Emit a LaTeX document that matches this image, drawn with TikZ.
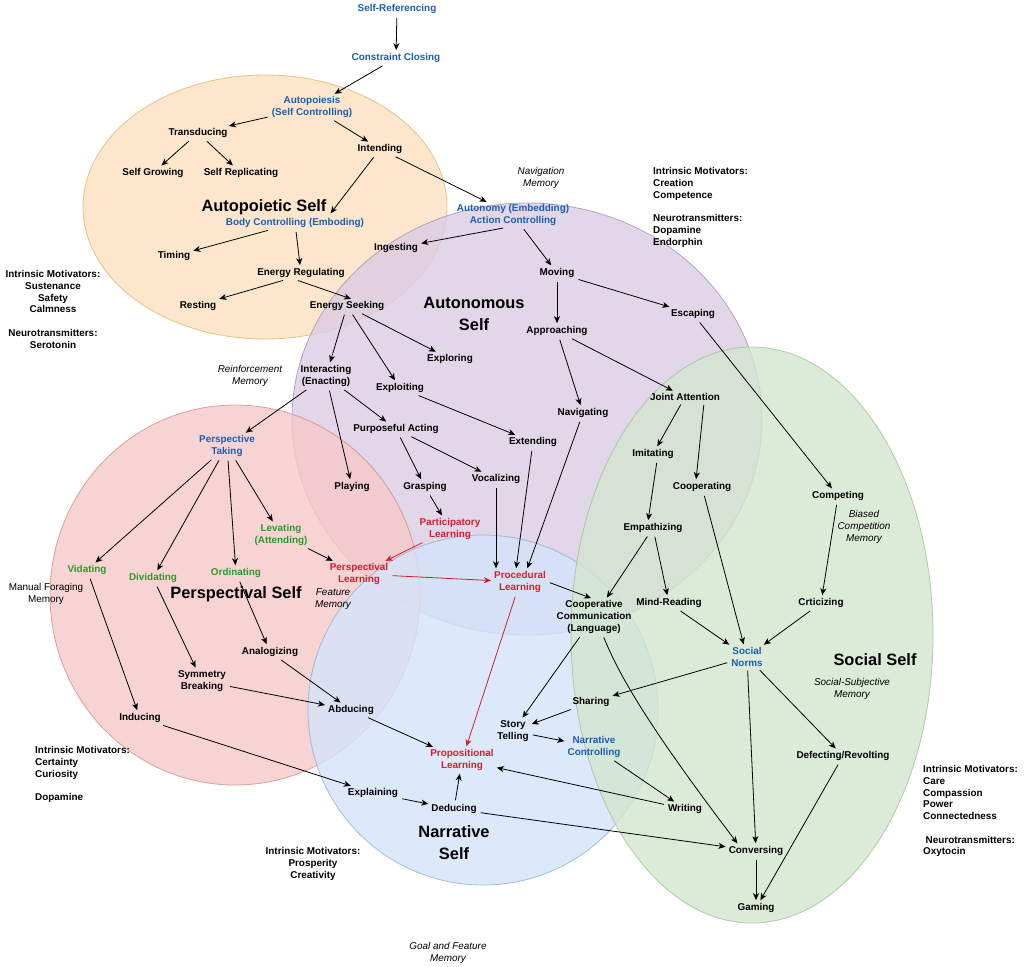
\documentclass[tikz,border=0pt]{standalone}
\usepackage{fontspec}
\setmainfont{Liberation Sans}
\usetikzlibrary{arrows.meta,calc}
\definecolor{tblue}{HTML}{1A5FB4}
\definecolor{tred}{HTML}{D2202A}
\definecolor{tgreen}{HTML}{2A9A2A}
\definecolor{oF}{HTML}{FDE0C0}\definecolor{oB}{HTML}{D8B46A}
\definecolor{pF}{HTML}{DBCCE4}\definecolor{pB}{HTML}{A58BB5}
\definecolor{rF}{HTML}{F7C9C8}\definecolor{rB}{HTML}{C98A88}
\definecolor{bF}{HTML}{D4E4FB}\definecolor{bB}{HTML}{8EA9D0}
\definecolor{gF}{HTML}{D2E6CF}\definecolor{gB}{HTML}{9DBF8F}
\begin{document}
\begin{tikzpicture}[x=1pt,y=-1pt,
 lbl/.style={font=\fontsize{9.9}{11.7}\selectfont\bfseries, align=center, inner sep=2pt},
 bl/.style={lbl, text=tblue},
 rd/.style={lbl, text=tred},
 gn/.style={lbl, text=tgreen},
 big/.style={font=\fontsize{16.4}{22}\selectfont\bfseries, align=center, inner sep=0pt},
 mem/.style={font=\fontsize{9.9}{11.7}\selectfont\itshape, align=center, inner sep=0pt},
 plain/.style={font=\fontsize{9.9}{11.7}\selectfont, align=center, inner sep=0pt},
 info/.style={font=\fontsize{9.9}{11.7}\selectfont\bfseries, align=left, inner sep=0pt, anchor=north west},
 infoc/.style={font=\fontsize{9.9}{11.7}\selectfont\bfseries, align=center, inner sep=0pt, anchor=north},
 arr/.style={-{Stealth[length=7pt,width=6pt,inset=2pt]}, line width=0.8pt, shorten <=2pt, shorten >=1pt},
 rarr/.style={arr, draw=tred, color=tred},
 blob/.style={line width=0.8pt, fill opacity=0.8, draw opacity=0.75}
]
\useasboundingbox (0,0) rectangle (1024,966);
\fill[white] (0,0) rectangle (1024,966);

% ellipses
\draw[blob, draw=oB, fill=oF] (265,207) ellipse [x radius=182pt, y radius=132pt];
\draw[blob, draw=pB, fill=pF] (527,419) ellipse [x radius=235pt, y radius=216pt];
\draw[blob, draw=rB, fill=rF] (235,595) ellipse [x radius=185pt, y radius=190pt];
\draw[blob, draw=bB, fill=bF] (483,710) ellipse [x radius=175pt, y radius=175pt];
\draw[blob, draw=gB, fill=gF] (752,635) ellipse [x radius=181pt, y radius=288pt];

% titles
\node[big] (tAuto) at (264,207) {Autopoietic Self};
\node[big] (tAutonomous) at (474,314) {Autonomous\\Self};
\node[big] (tPersp) at (236,594) {Perspectival Self};
\node[big] (tSocial) at (875,660) {Social Self};
\node[big] (tNarr) at (454,843) {Narrative\\Self};

% memory labels
\node[mem] (mNav) at (541,178) {Navigation\\Memory};
\node[mem] (mReinf) at (250,376) {Reinforcement\\Memory};
\node[mem] (mBiased) at (864,527) {Biased\\Competition\\Memory};
\node[mem] (mFeat) at (333,599) {Feature\\Memory};
\node[plain] (mManual) at (46,594) {Manual Foraging\\Memory};
\node[mem] (mSocial) at (852,689) {Social-Subjective\\Memory};
\node[mem] (mGoal) at (448,953) {Goal and Feature\\Memory};

% info blocks
\node[info] (infoA) at (653,167.5) {Intrinsic Motivators:\\Creation\\Competence\\[11.7pt]Neurotransmitters:\\Dopamine\\Endorphin};
\node[infoc] (infoL) at (53,270.5) {Intrinsic Motivators:\\Sustenance\\Safety\\Calmness\\[11.7pt]Neurotransmitters:\\Serotonin};
\node[info] (infoBL) at (35,746.5) {Intrinsic Motivators:\\Certainty\\Curiosity\\[11.7pt]Dopamine};
\node[infoc] (infoB) at (313,847.5) {Intrinsic Motivators:\\Prosperity\\Creativity};
\node[info] (infoR) at (923,765.5) {Intrinsic Motivators:\\Care\\Compassion\\Power\\Connectedness\\[11.7pt]\hspace*{2.5pt}Neurotransmitters:\\Oxytocin};

% nodes
\node[bl] (selfref) at (397,9) {Self-Referencing};
\node[bl] (cclos) at (396,58) {Constraint Closing};
\node[bl] (autop) at (312,107) {Autopoiesis\\(Self Controlling)};
\node[lbl] (transd) at (198,133) {Transducing};
\node[lbl] (intend) at (380,149) {Intending};
\node[lbl] (sgrow) at (153,173) {Self Growing};
\node[lbl] (srepl) at (241,173) {Self Replicating};
\node[bl] (body) at (295,223) {Body Controlling (Emboding)};
\node[lbl] (timing) at (174,256) {Timing};
\node[lbl] (ereg) at (301,273) {Energy Regulating};
\node[lbl] (rest) at (198,306) {Resting};
\node[lbl] (eseek) at (347,306) {Energy Seeking};
\node[lbl] (ingest) at (396,248) {Ingesting};
\node[bl] (auton) at (513,215) {Autonomy (Embedding)\\Action Controlling};
\node[lbl] (moving) at (557,273) {Moving};
\node[lbl] (escap) at (693,314) {Escaping};
\node[lbl] (appr) at (557,331) {Approaching};
\node[lbl] (explor) at (450,359) {Exploring};
\node[lbl] (interact) at (326,376) {Interacting\\(Enacting)};
\node[lbl] (exploit) at (400,388) {Exploiting};
\node[lbl] (joint) at (685,397) {Joint Attention};
\node[lbl] (navig) at (583,413) {Navigating};
\node[lbl] (purp) at (396,429) {Purposeful Acting};
\node[lbl] (extend) at (533,442) {Extending};
\node[bl] (persp) at (227,446) {Perspective\\Taking};
\node[lbl] (imit) at (653,454) {Imitating};
\node[lbl] (play) at (352,487) {Playing};
\node[lbl] (grasp) at (425,487) {Grasping};
\node[lbl] (vocal) at (496,479) {Vocalizing};
\node[lbl] (coopg) at (702,487) {Cooperating};
\node[lbl] (compet) at (838,496) {Competing};
\node[rd] (partic) at (450,529) {Participatory\\Learning};
\node[gn] (levat) at (281,535) {Levating\\(Attending)};
\node[lbl] (empath) at (653,528) {Empathizing};
\node[rd] (perspL) at (359,574) {Perspectival\\Learning};
\node[gn] (vidat) at (87,570) {Vidating};
\node[gn] (divid) at (153,578) {Dividating};
\node[gn] (ordin) at (236,573) {Ordinating};
\node[rd] (proc) at (520,582) {Procedural\\Learning};
\node[lbl] (coopc) at (594,617) {Cooperative\\Communication\\(Language)};
\node[lbl] (mind) at (669,603) {Mind-Reading};
\node[lbl] (critic) at (821,603) {Crticizing};
\node[lbl] (analog) at (270,652) {Analogizing};
\node[bl] (norms) at (747,657) {Social\\Norms};
\node[lbl] (symm) at (202,681) {Symmetry\\Breaking};
\node[lbl] (sharing) at (591,702) {Sharing};
\node[lbl] (abduc) at (351,710) {Abducing};
\node[lbl] (induc) at (140,718) {Inducing};
\node[lbl] (story) at (513,731) {Story\\Telling};
\node[bl] (narrC) at (594,747) {Narrative\\Controlling};
\node[rd] (propL) at (462,760) {Propositional\\Learning};
\node[lbl] (defect) at (843,756) {Defecting/Revolting};
\node[lbl] (explain) at (373,793) {Explaining};
\node[lbl] (deduc) at (454,809) {Deducing};
\node[lbl] (writing) at (685,809) {Writing};
\node[lbl] (conv) at (756,851) {Conversing};
\node[lbl] (gaming) at (756,908) {Gaming};

% connectors
\draw[arr] (selfref) -- (cclos);
\draw[arr] (cclos) -- (autop);
\draw[arr] (autop) -- (transd);
\draw[arr] (autop) -- (intend);
\draw[arr] (transd) -- (sgrow);
\draw[arr] (transd) -- (srepl);
\draw[arr] (intend) -- ([xshift=35pt,yshift=2pt]body.north);
\draw[arr] (intend) -- (auton);
\draw[arr] (body) -- (timing);
\draw[arr] (body) -- (ereg);
\draw[arr] ([xshift=-16pt]ereg.south) -- (rest.north east);
\draw[arr] ([xshift=-5pt]ereg.south) -- ([xshift=5pt]eseek.north);
\draw[arr] ([xshift=-8pt]auton.south) -- (ingest);
\draw[arr] (auton) -- (moving);
\draw[arr] (eseek) -- (interact);
\draw[arr] (eseek) -- (exploit);
\draw[arr] (eseek) -- (explor);
\draw[arr] (moving) -- (appr);
\draw[arr] (moving) -- (escap);
\draw[arr] (appr) -- (navig);
\draw[arr] (appr) -- (joint);
\draw[arr] (interact) -- (persp);
\draw[arr] (interact) -- (play);
\draw[arr] (interact) -- (purp);
\draw[arr] (exploit) -- (extend);
\draw[arr] (purp) -- (grasp);
\draw[arr] (purp) -- (vocal);
\draw[arr] (grasp) -- (partic);
\draw[rarr] (partic) -- (perspL);
\draw[arr] (persp) -- (vidat);
\draw[arr] (persp) -- (divid);
\draw[arr] (persp) -- (ordin);
\draw[arr] (persp) -- (levat);
\draw[arr] (levat) -- (perspL);
\draw[rarr] (perspL) -- (proc);
\draw[arr] (vocal) -- (vocal |- proc.north);
\draw[arr] (extend) -- ([xshift=-4pt]proc.north);
\draw[arr] (navig) -- ([xshift=7pt]proc.north);
\draw[arr] (proc.east) -- ([xshift=-2pt]coopc.north);
\draw[rarr] (proc) -- (propL);
\draw[arr] (escap) -- (compet);
\draw[arr] (joint) -- (imit);
\draw[arr] ([xshift=19pt]joint.south) -- ([xshift=-6pt]coopg.north);
\draw[arr] ([xshift=4pt]imit.south) -- ([xshift=-5pt]empath.north);
\draw[arr] (empath) -- (coopc);
\draw[arr] (empath) -- (mind);
\draw[arr] (coopg) -- (norms);
\draw[arr] (mind) -- (norms);
\draw[arr] (compet) -- (critic);
\draw[arr] (critic) -- (norms);
\draw[arr] (norms) -- (sharing);
\draw[arr] (norms) -- (conv);
\draw[arr] (norms) -- (defect);
\draw[arr] (coopc) -- (story);
\draw[arr] ([xshift=9pt]coopc.south) .. controls +(14,34) and +(-98,-129) .. ([xshift=-18pt]conv.north);
\draw[arr] (sharing) -- (story);
\draw[arr] (story) -- (narrC);
\draw[arr] (narrC) -- (writing);
\draw[arr] (writing) -- (propL);
\draw[arr] (vidat) -- (induc);
\draw[arr] (divid) -- (symm);
\draw[arr] (ordin) -- (analog);
\draw[arr] (analog) -- (abduc);
\draw[arr] (symm) -- (abduc);
\draw[arr] (abduc) -- (propL);
\draw[arr] (induc) -- (explain);
\draw[arr] (explain) -- (deduc);
\draw[arr] (deduc) -- (propL);
\draw[arr] (deduc) -- (conv);
\draw[arr] (defect) -- (gaming);
\draw[arr] (conv) -- (gaming);
\end{tikzpicture}
\end{document}
